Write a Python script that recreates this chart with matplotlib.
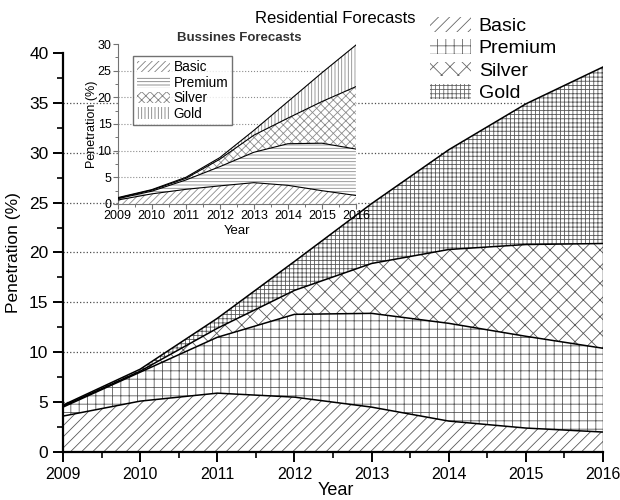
import numpy as np
import matplotlib
matplotlib.use("Agg")
import matplotlib.pyplot as plt
from matplotlib.patches import Patch
from matplotlib.ticker import MultipleLocator

plt.rcParams['font.family'] = ['Liberation Sans', 'DejaVu Sans']
plt.rcParams['hatch.linewidth'] = 0.6

years = [2009, 2010, 2011, 2012, 2013, 2014, 2015, 2016]
tiers = ["Basic", "Premium", "Silver", "Gold"]

# Residential forecasts, cumulative top of each band (%)
res_basic = [3.6, 5.1, 5.9, 5.5, 4.5, 3.1, 2.4, 2.0]
res_premium = [4.5, 8.0, 11.5, 13.8, 13.9, 12.9, 11.6, 10.4]
res_silver = [4.6, 8.1, 12.4, 16.2, 18.9, 20.3, 20.8, 20.9]
res_gold = [4.7, 8.3, 13.4, 19.1, 24.9, 30.3, 34.9, 38.6]

# Business forecasts, cumulative top of each band (%)
bus_basic = [0.75, 1.9, 2.75, 3.4, 4.0, 3.5, 2.5, 1.6]
bus_premium = [1.0, 2.4, 4.5, 7.0, 9.7, 11.3, 11.4, 10.3]
bus_silver = [1.1, 2.6, 4.8, 8.4, 12.9, 16.1, 19.2, 22.0]
bus_gold = [1.2, 2.7, 5.0, 8.7, 13.8, 19.2, 24.6, 29.8]

res_hatch = ['///', '++', 'xx', '++++']
bus_hatch = ['/////', '-----', 'xxxx', '|||||']

fig = plt.figure(figsize=(6.2, 5.0), dpi=100)
ax = fig.add_axes([0.1016, 0.096, 0.871, 0.798])


def stacked(axis, tops, hatches, hcolor, lw):
    lower = np.zeros(len(years))
    for top, h in zip(tops, hatches):
        top = np.array(top)
        axis.fill_between(years, lower, top, facecolor='white', edgecolor=hcolor,
                          linewidth=0, hatch=h, zorder=2)
        axis.plot(years, top, color='black', lw=lw, zorder=3)
        lower = top


stacked(ax, [res_basic, res_premium, res_silver, res_gold], res_hatch, '0.35', 1.1)
ax.plot([years[-1], years[-1]], [0, res_gold[-1]], color='black', lw=1.0, zorder=3)

for yv in range(5, 40, 5):
    ax.axhline(yv, color='0.3', ls=':', lw=0.9, zorder=0)

ax.set_xlim(2009, 2016)
ax.set_ylim(0, 40)
ax.xaxis.set_major_locator(MultipleLocator(1))
ax.xaxis.set_minor_locator(MultipleLocator(0.5))
ax.yaxis.set_major_locator(MultipleLocator(5))
ax.yaxis.set_minor_locator(MultipleLocator(2.5))
ax.spines['top'].set_visible(False)
ax.spines['right'].set_visible(False)
for s in ['left', 'bottom']:
    ax.spines[s].set_linewidth(1.6)
ax.tick_params(which='major', direction='out', length=7, width=1.4, labelsize=11.5)
ax.tick_params(axis='y', which='major', labelsize=12.5)
ax.tick_params(which='minor', direction='out', length=4, width=1.2)
ax.set_xlabel("Year", fontsize=13)
ax.set_ylabel("Penetration (%)", fontsize=12.5, labelpad=6)
ax.xaxis.set_label_coords(0.505, -0.075)

fig.text(0.54, 0.963, "Residential Forecasts", ha='center', va='center', fontsize=12)

handles = [Patch(facecolor='white', edgecolor='0.4', linewidth=0, hatch=h) for h in res_hatch]
fig.legend(handles, tiers, loc='upper left', bbox_to_anchor=(0.675, 0.99), frameon=False,
           fontsize=14, handlelength=2.1, handleheight=0.8, labelspacing=0.22,
           handletextpad=0.4, borderpad=0.1)

# inset: business forecasts
axi = fig.add_axes([0.190, 0.592, 0.384, 0.32])
axi.set_facecolor('white')
stacked(axi, [bus_basic, bus_premium, bus_silver, bus_gold], bus_hatch, '0.55', 0.8)
for yv in range(5, 30, 5):
    axi.axhline(yv, color='0.55', ls=':', lw=0.8, zorder=0)
axi.set_xlim(2009, 2016)
axi.set_ylim(0, 30)
axi.xaxis.set_major_locator(MultipleLocator(1))
axi.xaxis.set_minor_locator(MultipleLocator(0.5))
axi.yaxis.set_major_locator(MultipleLocator(5))
axi.yaxis.set_minor_locator(MultipleLocator(2.5))
axi.spines['top'].set_visible(False)
axi.spines['right'].set_visible(False)
for s in ['left', 'bottom']:
    axi.spines[s].set_color('0.45')
axi.tick_params(which='major', direction='out', length=3.5, width=0.8, labelsize=9, pad=1,
                color='0.45')
axi.tick_params(which='minor', direction='out', length=2, width=0.7, color='0.45')
axi.set_title("Bussines Forecasts", fontsize=9.5, fontweight='bold', pad=1, color='0.2',
              x=0.51)
axi.set_xlabel("Year", fontsize=9.5)
axi.set_ylabel("Penetration (%)", fontsize=9, labelpad=0)
axi.xaxis.set_label_coords(0.5, -0.13)

ihandles = [Patch(facecolor='white', edgecolor='0.5', linewidth=0, hatch=h) for h in bus_hatch]
axi.legend(ihandles, tiers, loc='upper left', bbox_to_anchor=(0.035, 0.965), fontsize=9.8,
           frameon=True, fancybox=False, edgecolor='0.3', handlelength=2.4,
           handleheight=0.9, labelspacing=0.1, handletextpad=0.3, borderpad=0.3)

fig.savefig("out.png", dpi=100)
